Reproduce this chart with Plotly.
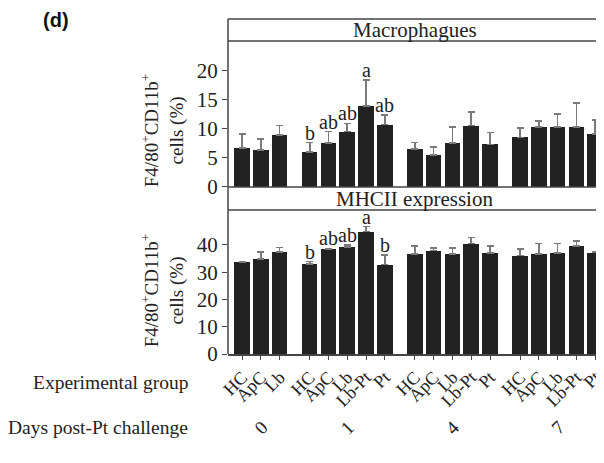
import plotly.graph_objects as go

# ---- data ----
groups = ["HC", "ApC", "Lb", "HC", "ApC", "Lb", "Lb-Pt", "Pt",
          "HC", "ApC", "Lb", "Lb-Pt", "Pt", "HC", "ApC", "Lb", "Lb-Pt", "Pt"]
xpos = [0, 1, 2, 3.6, 4.6, 5.6, 6.6, 7.6, 9.2, 10.2, 11.2, 12.2, 13.2,
        14.8, 15.8, 16.8, 17.8, 18.8]
days = ["0", "1", "4", "7"]
day_pos = [1, 5.6, 11.2, 16.8]

macro_vals = [6.7, 6.3, 8.9, 6.0, 7.5, 9.5, 13.9, 10.7,
              6.5, 5.5, 7.5, 10.5, 7.3, 8.5, 10.3, 10.3, 10.3, 9.1]
macro_err = [2.4, 1.9, 1.6, 1.6, 2.0, 1.4, 4.4, 1.6,
             1.1, 1.4, 2.8, 2.3, 2.0, 1.6, 1.0, 2.2, 4.1, 2.4]
macro_sig = ["", "", "", "b", "ab", "ab", "a", "ab",
             "", "", "", "", "", "", "", "", "", ""]

mhc_vals = [33.6, 34.9, 37.4, 33.1, 38.4, 39.3, 44.9, 32.8,
            36.6, 37.9, 36.6, 40.5, 37.1, 36.1, 36.6, 37.1, 39.6, 37.2]
mhc_err = [0.3, 2.5, 1.7, 0.8, 0.3, 0.7, 1.8, 3.4,
           3.1, 0.9, 2.2, 2.2, 2.6, 2.3, 3.9, 3.4, 1.8, 0.3]
mhc_sig = ["", "", "", "b", "ab", "ab", "a", "b",
           "", "", "", "", "", "", "", "", "", ""]

SERIF = "Liberation Serif, Times New Roman, serif"
BAR = "#222222"
ERR = "#7a7a7a"
TXT = "#222222"

fig = go.Figure()
fig.add_trace(go.Bar(
    x=xpos, y=macro_vals, width=0.83, marker=dict(color=BAR, line=dict(width=0)),
    error_y=dict(type="data", array=macro_err, arrayminus=[0] * len(macro_err),
                 symmetric=False, color=ERR, thickness=1.6, width=3.5),
    xaxis="x2", yaxis="y2", showlegend=False))
fig.add_trace(go.Bar(
    x=xpos, y=mhc_vals, width=0.83, marker=dict(color=BAR, line=dict(width=0)),
    error_y=dict(type="data", array=mhc_err, arrayminus=[0] * len(mhc_err),
                 symmetric=False, color=ERR, thickness=1.6, width=3.5),
    xaxis="x", yaxis="y", showlegend=False))

ann = []
for xp, v, e, s in zip(xpos, macro_vals, macro_err, macro_sig):
    if s:
        ann.append(dict(x=xp, y=v + e, xref="x2", yref="y2", text=s, showarrow=False,
                        xanchor="center", yanchor="bottom", yshift=-3,
                        font=dict(family=SERIF, size=20, color=TXT)))
for xp, v, e, s in zip(xpos, mhc_vals, mhc_err, mhc_sig):
    if s:
        ann.append(dict(x=xp, y=v + e, xref="x", yref="y", text=s, showarrow=False,
                        xanchor="center", yanchor="bottom", yshift=-3,
                        font=dict(family=SERIF, size=20, color=TXT)))

ytitle = "F4/80<sup>+</sup>CD11b<sup>+</sup><br>cells (%)"
for yy in (0.669, 0.191):
    ann.append(dict(x=-0.172, y=yy, xref="paper", yref="paper", text=ytitle, textangle=-90,
                    xanchor="center", yanchor="middle", showarrow=False,
                    font=dict(family=SERIF, size=19, color=TXT)))
ann.append(dict(x=0.497, y=0.967, xref="paper", yref="paper", text="Macrophagues",
                xanchor="center", yanchor="middle", showarrow=False,
                font=dict(family=SERIF, size=21, color=TXT)))
ann.append(dict(x=0.497, y=0.462, xref="paper", yref="paper", text="MHCII expression",
                xanchor="center", yanchor="middle", showarrow=False,
                font=dict(family=SERIF, size=21, color=TXT)))
ann.append(dict(x=-0.101, y=-0.0836, xref="paper", yref="paper", text="Experimental group",
                xanchor="right", yanchor="middle", showarrow=False,
                font=dict(family=SERIF, size=19.5, color=TXT)))
ann.append(dict(x=-0.101, y=-0.218, xref="paper", yref="paper", text="Days post-Pt challenge",
                xanchor="right", yanchor="middle", showarrow=False,
                font=dict(family=SERIF, size=19.5, color=TXT)))
for d, p in zip(days, day_pos):
    ann.append(dict(x=p, y=-0.218, xref="x", yref="paper", text=d, textangle=-45,
                    xanchor="center", yanchor="middle", showarrow=False,
                    font=dict(family=SERIF, size=19, color=TXT)))
ann.append(dict(x=-0.457, y=0.997, xref="paper", yref="paper", text="<b>(d)</b>",
                xanchor="center", yanchor="middle", showarrow=False,
                font=dict(family="Liberation Sans, Arial, sans-serif", size=20, color="#111")))

line = dict(color="#444", width=1.5)
shapes = [
    dict(type="line", xref="paper", yref="paper", x0=0, x1=1, y0=1, y1=1, line=line),
    dict(type="line", xref="paper", yref="paper", x0=0, x1=1, y0=0.9343, y1=0.9343, line=line),
    dict(type="line", xref="paper", yref="paper", x0=0, x1=1, y0=0.4985, y1=0.4985, line=line),
    dict(type="line", xref="paper", yref="paper", x0=0, x1=1, y0=0.4299, y1=0.4299, line=line),
    dict(type="line", xref="paper", yref="paper", x0=0, x1=0, y0=0, y1=1, line=line),
]

fig.update_layout(
    width=596, height=455,
    margin=dict(l=220, r=0, t=11, b=109),
    paper_bgcolor="white", plot_bgcolor="white",
    bargap=0,
    xaxis=dict(range=[-0.75, 19.27], anchor="y", tickmode="array", tickvals=xpos, ticktext=groups,
               tickangle=-45, ticks="outside", ticklen=4, tickcolor="#444", showgrid=False,
               zeroline=False, showline=True, linecolor="#444", linewidth=1.5,
               ticklabeloverflow="allow",
               tickfont=dict(family=SERIF, size=18, color=TXT)),
    xaxis2=dict(range=[-0.75, 19.27], anchor="y2", matches="x", showticklabels=False,
                showgrid=False, zeroline=False, showline=False, ticks=""),
    yaxis=dict(domain=[0, 0.4299], range=[0, 52.8], tickvals=[0, 10, 20, 30, 40],
               ticks="outside", ticklen=5, tickcolor="#444", showgrid=False, zeroline=False,
               showline=False, tickfont=dict(family=SERIF, size=21, color=TXT)),
    yaxis2=dict(domain=[0.4985, 0.9343], range=[0, 25], tickvals=[0, 5, 10, 15, 20],
                anchor="x2", ticks="outside", ticklen=5, tickcolor="#444", showgrid=False,
                zeroline=False, showline=False, tickfont=dict(family=SERIF, size=21, color=TXT)),
    annotations=ann, shapes=shapes,
)

fig.write_html("out.html")
